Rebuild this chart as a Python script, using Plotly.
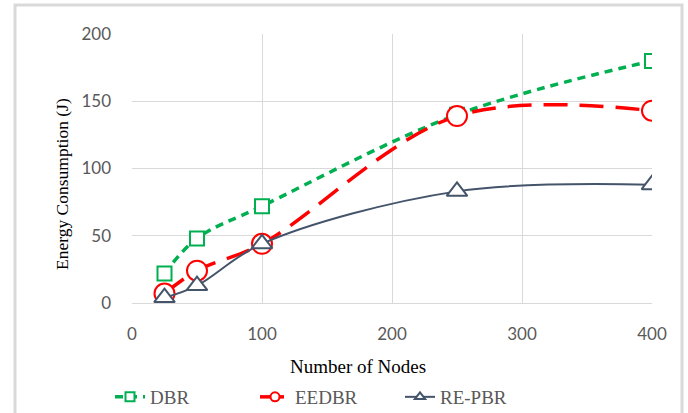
import plotly.graph_objects as go

nodes = [25, 50, 100, 250, 400]
dbr = [22, 48, 72, 140, 180]
eedbr = [7, 24, 44, 139, 143]
repbr = [4, 13, 44, 83, 88]

x_ticks = [0, 100, 200, 300, 400]
y_ticks = [0, 50, 100, 150, 200]

series = [
    ("DBR", dbr, "#00B050", "8px,6px", 3.5, "square", 14, 9),
    ("EEDBR", eedbr, "#FF0000", "24px,12px", 3.5, "circle", 20, 9),
    ("RE-PBR", repbr, "#44546A", "solid", 2, "triangle-up", 18, 9),
]

fig = go.Figure()
for name, vals, color, dash, lw, sym, msize, lsize in series:
    fig.add_trace(go.Scatter(
        x=nodes, y=vals, name=name, mode="lines+markers", showlegend=False,
        line=dict(color=color, width=lw, dash=dash, shape="spline"),
        marker=dict(symbol=sym, size=msize, color="white",
                    line=dict(color=color, width=2)),
    ))
for name, vals, color, dash, lw, sym, msize, lsize in series:
    fig.add_trace(go.Scatter(
        x=[None], y=[None], name=name, mode="lines+markers", showlegend=True,
        line=dict(color=color, width=lw, dash=dash),
        marker=dict(symbol=sym, size=lsize, color="white",
                    line=dict(color=color, width=2)),
    ))

tick_font = dict(family="Lato, Open Sans, sans-serif", size=17, color="#595959")
serif = "Liberation Serif, Times New Roman, serif"

L, R, T, B = 132, 652, 34, 303
W, H = R - L, B - T

fig.update_layout(
    width=688, height=413,
    margin=dict(l=L, r=688 - R, t=T, b=413 - B, autoexpand=False),
    paper_bgcolor="white", plot_bgcolor="white",
    showlegend=True,
    legend=dict(orientation="h", x=(110 - L) / W, xanchor="left",
                y=(B - 397) / H, yanchor="middle",
                font=dict(family=serif, size=19, color="#595959"),
                entrywidth=100, entrywidthmode="pixels", tracegroupgap=0,
                bgcolor="rgba(0,0,0,0)"),
    xaxis=dict(range=[0, 400], tickvals=x_ticks, ticktext=[str(v) for v in x_ticks],
               showgrid=True, gridcolor="#D9D9D9", gridwidth=1, automargin=False,
               zeroline=False, showline=True, linecolor="#D9D9D9", linewidth=1,
               tickfont=tick_font, ticklabelstandoff=16),
    yaxis=dict(range=[0, 200], tickvals=y_ticks, ticktext=[str(v) for v in y_ticks],
               showgrid=True, gridcolor="#D9D9D9", gridwidth=1, automargin=False,
               zeroline=False, showline=False,
               tickfont=tick_font, ticklabelstandoff=20),
    annotations=[
        dict(text="Number of Nodes", xref="paper", yref="paper",
             x=(358 - L) / W, y=(B - 367) / H, xanchor="center", yanchor="middle",
             showarrow=False, font=dict(family=serif, size=19, color="#000000")),
        dict(text="Energy Consumption (J)", xref="paper", yref="paper",
             x=(62 - L) / W, y=(B - 184) / H, xanchor="center", yanchor="middle",
             textangle=-90, showarrow=False,
             font=dict(family=serif, size=17.5, color="#000000")),
    ],
    shapes=[dict(type="rect", xref="paper", yref="paper",
                 x0=(15 - L) / W, x1=(682 - L) / W,
                 y0=(B - 440) / H, y1=(B - 5) / H,
                 line=dict(color="#D9D9D9", width=3), layer="above")],
)

fig.write_html("out.html", config={"displayModeBar": False},
               post_script="document.body.style.margin='0';document.body.style.overflow='hidden';")
